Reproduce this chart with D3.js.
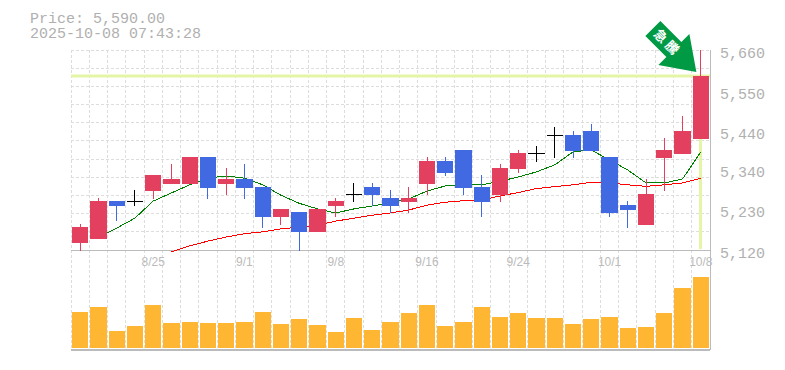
<!DOCTYPE html>
<html lang="en">
<head>
  <meta charset="UTF-8">
  <title>Price chart</title>
  <script src="https://d3js.org/d3.v7.min.js"></script>
  <style>
    html, body { margin: 0; padding: 0; background: #fff; }
    svg { display: block; }
    text { font-family: "Liberation Mono", monospace; fill: #b0b0b0; }
  </style>
</head>
<body>
  <svg id="chart" width="785" height="370"></svg>

  <script>
    const dates = ['8/19','8/20','8/21','8/22','8/25','8/26','8/27','8/28','8/29','9/1','9/2','9/3','9/4','9/5','9/8','9/9','9/10','9/11','9/12','9/16','9/17','9/18','9/19','9/22','9/24','9/25','9/26','9/29','9/30','10/1','10/2','10/3','10/6','10/7','10/8'];
    const openPrice  = [5139,5150,5252,5252,5279,5298,5298,5371,5298,5312,5290,5209,5223,5169,5239,5271,5290,5260,5250,5298,5360,5390,5290,5268,5339,5382,5431,5431,5441,5371,5241,5187,5368,5379,5420];
    const closePrice = [5182,5252,5239,5252,5322,5312,5371,5287,5312,5287,5209,5231,5169,5231,5252,5271,5268,5239,5260,5360,5328,5287,5250,5341,5382,5382,5431,5387,5387,5220,5228,5271,5390,5441,5590];
    const highPrice  = [5190,5260,5252,5282,5322,5352,5371,5371,5341,5352,5290,5231,5223,5231,5260,5301,5301,5282,5290,5371,5371,5390,5322,5352,5390,5401,5452,5441,5460,5371,5252,5312,5422,5482,5660];
    const lowPrice   = [5118,5150,5198,5239,5258,5298,5298,5258,5268,5258,5179,5187,5118,5169,5209,5250,5239,5220,5220,5268,5320,5268,5209,5250,5328,5358,5368,5368,5387,5209,5179,5187,5279,5379,5420];
    const maShort = [null,5155,5179,5206,5252,5274,5296,5314,5320,5314,5296,5268,5246,5231,5220,5231,5239,5247,5258,5279,5293,5296,5296,5306,5317,5331,5350,5385,5390,5363,5336,5301,5301,5312,5385];
    const maLong  = [null,null,null,null,null,5115,5131,5144,5155,5164,5169,5177,5182,5187,5198,5206,5214,5220,5228,5241,5249,5253,5255,5266,5275,5286,5291,5296,5303,5301,5296,5292,5296,5301,5314];
    const volume = [36,41,17,22,43,25,26,25,25,26,36,24,29,23,16,30,18,26,35,43,22,26,41,31,35,30,30,24,29,31,20,21,35,60,71];

    const priceTicks = [5120,5230,5340,5440,5550,5660];
    const priceLabels = ['5,120','5,230','5,340','5,440','5,550','5,660'];
    const dateTicks = ['8/25','9/1','9/8','9/16','9/24','10/1','10/8'];
    const lastPrice = 5590;
    const titleLines = ['Price: 5,590.00','2025-10-08 07:43:28'];

    const svg = d3.select('#chart');
    const plotLeft = 71, plotRight = 710, plotTop = 50, priceBottom = 250, plotBottom = 350;

    const x = d3.scaleBand().domain(dates).range([plotLeft, plotRight]);
    const y = d3.scaleLinear().domain([5120, 5660]).range([priceBottom, plotTop]);
    const v = d3.scaleLinear().domain([0, 71]).range([348, 277]);

    const cx = d => x(d) + x.bandwidth() / 2;
    const wickX = d => Math.floor(cx(d)) + 0.5;

    // grid
    const grid = svg.append('g').attr('stroke', '#ddd').attr('stroke-dasharray', '3,2').attr('shape-rendering', 'crispEdges');
    d3.range(0, 12).forEach(i => {
      const gy = priceBottom - i * (priceBottom - plotTop) / 11;
      grid.append('line').attr('x1', plotLeft).attr('x2', plotRight).attr('y1', gy).attr('y2', gy);
    });
    d3.range(0, 35).forEach(i => {
      const gx = plotLeft + i * x.step();
      grid.append('line').attr('x1', gx).attr('x2', gx).attr('y1', plotTop).attr('y2', plotBottom);
    });

    // axis frame
    const frame = svg.append('g').attr('stroke', '#bbb').attr('shape-rendering', 'crispEdges');
    frame.append('line').attr('x1', plotLeft).attr('x2', plotRight).attr('y1', priceBottom).attr('y2', priceBottom);
    frame.append('line').attr('x1', plotLeft).attr('x2', plotRight).attr('y1', plotBottom).attr('y2', plotBottom).attr('stroke-width', 2);
    frame.append('line').attr('x1', plotRight).attr('x2', plotRight).attr('y1', plotTop).attr('y2', plotBottom);

    // current price marker
    const marker = svg.append('g').attr('stroke', '#e4f5a6').attr('stroke-width', 3);
    marker.append('line').attr('x1', plotLeft).attr('x2', plotRight).attr('y1', y(lastPrice)).attr('y2', y(lastPrice));
    marker.append('line').attr('x1', wickX('10/8')).attr('x2', wickX('10/8')).attr('y1', y(lastPrice)).attr('y2', priceBottom - 1);

    // moving averages
    const maLine = d3.line()
      .defined(d => d[1] !== null)
      .x(d => cx(d[0]))
      .y(d => y(d[1]));
    svg.append('path').datum(dates.map((d, i) => [d, maShort[i]]))
      .attr('d', maLine).attr('fill', 'none').attr('stroke', 'green').attr('stroke-width', 1)
      .attr('shape-rendering', 'crispEdges');
    svg.append('path').datum(dates.map((d, i) => [d, maLong[i]]))
      .attr('d', maLine).attr('fill', 'none').attr('stroke', 'red').attr('stroke-width', 1)
      .attr('shape-rendering', 'crispEdges');

    // candles
    const colorOf = i => closePrice[i] > openPrice[i] ? '#e3405f' : closePrice[i] < openPrice[i] ? '#4169e1' : '#000';
    svg.append('g').attr('shape-rendering', 'crispEdges').selectAll('line').data(dates).join('line')
      .attr('x1', wickX)
      .attr('x2', wickX)
      .attr('y1', (d, i) => y(highPrice[i]))
      .attr('y2', (d, i) => y(lowPrice[i]))
      .attr('stroke', (d, i) => colorOf(i));
    svg.append('g').attr('shape-rendering', 'crispEdges').selectAll('rect').data(dates).join('rect')
      .attr('x', d => x(d) + 1)
      .attr('width', x.bandwidth() - 2)
      .attr('y', (d, i) => y(Math.max(openPrice[i], closePrice[i])))
      .attr('height', (d, i) => Math.max(1, Math.abs(y(openPrice[i]) - y(closePrice[i]))))
      .attr('fill', (d, i) => colorOf(i));

    // volume
    svg.append('g').attr('shape-rendering', 'crispEdges').selectAll('rect').data(dates).join('rect')
      .attr('x', d => x(d) + 1)
      .attr('width', x.bandwidth() - 2)
      .attr('y', (d, i) => v(volume[i]))
      .attr('height', (d, i) => v(0) - v(volume[i]))
      .attr('fill', '#ffb733');

    // labels
    svg.append('g').selectAll('text').data(priceTicks).join('text')
      .attr('x', 720).attr('y', d => y(d) + 8)
      .attr('font-size', 15)
      .text((d, i) => priceLabels[i]);
    svg.append('g').selectAll('text').data(dateTicks).join('text')
      .attr('x', d => cx(d)).attr('y', 266)
      .attr('text-anchor', 'middle').attr('font-size', 12)
      .style('font-family', '"Liberation Sans"')
      .style('fill', '#bbb')
      .text(d => d);
    svg.append('text').attr('font-size', 15)
      .selectAll('tspan').data(titleLines).join('tspan')
      .attr('x', 30).attr('y', (d, i) => 23 + i * 15)
      .text(d => d);

    // arrow pointing at the last candle
    const arrow = svg.append('g').attr('transform', `translate(${cx('10/8') - 4.5},${y(lastPrice) - 4})`);
    arrow.append('path')
      .attr('d', 'M0,0 L-38,-7 L-30,-15 L-51,-36 L-36,-51 L-15,-30 L-7,-38 Z')
      .attr('fill', '#009944');
    arrow.append('text')
      .attr('transform', 'translate(-29,-29) rotate(45)')
      .attr('text-anchor', 'middle').attr('dy', '0.35em')
      .attr('font-size', 13).attr('font-weight', 'bold').attr('letter-spacing', 3)
      .style('font-family', '"Noto Sans CJK JP"').style('fill', '#fff')
      .text('急騰');
  </script>
</body>
</html>
